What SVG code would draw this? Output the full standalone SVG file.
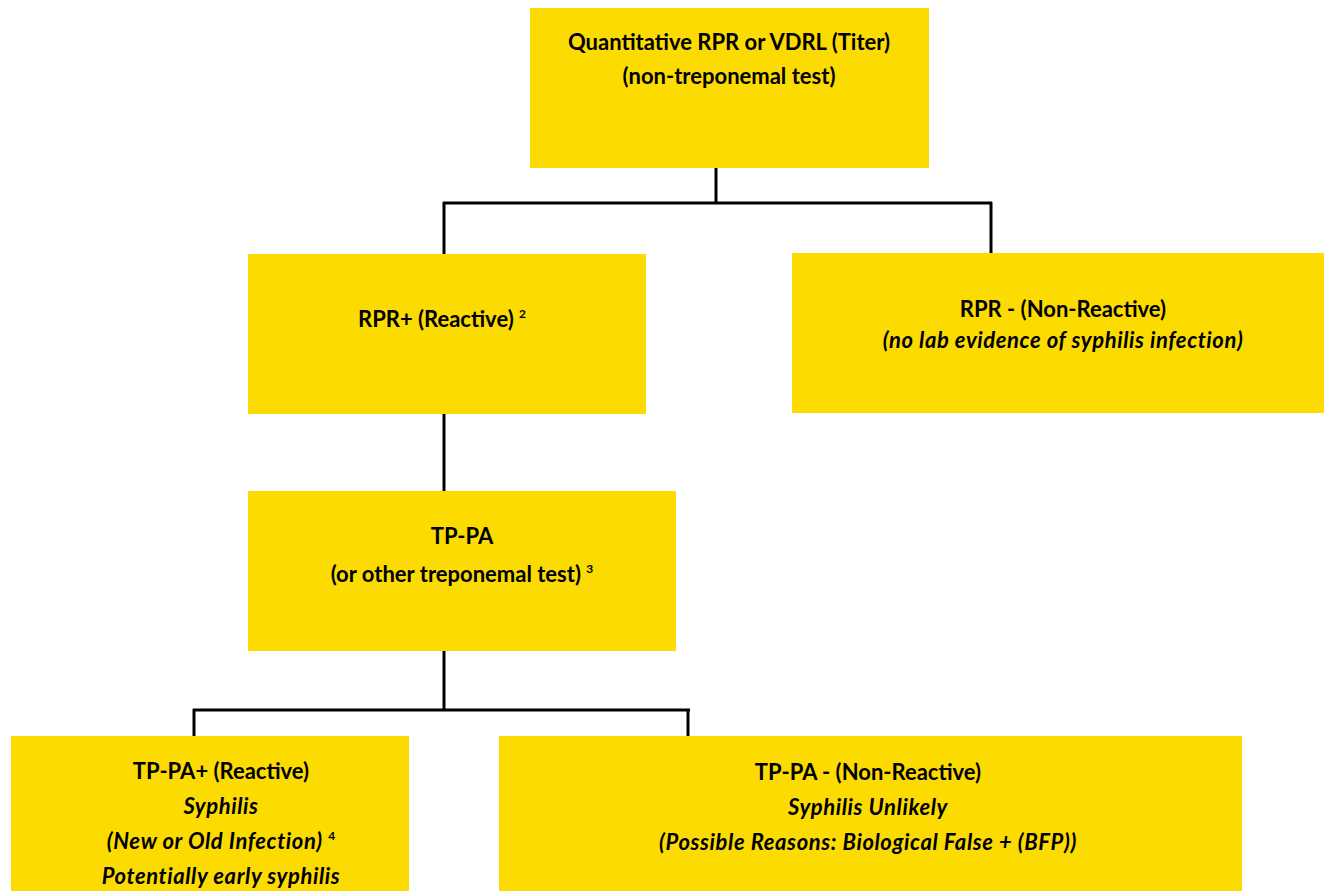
<svg xmlns="http://www.w3.org/2000/svg" width="1324" height="891" viewBox="0 0 1324 891">
<style>
.box{fill:#FCDC00;}
.t{font-family:Lato,"Liberation Sans",sans-serif;font-size:22px;font-weight:bold;fill:#000;text-anchor:middle;}
.i{font-style:italic;letter-spacing:0.6px;}
.sup{font-size:12px;letter-spacing:0;}
.c{fill:none;stroke:#000;stroke-width:3;}
</style>
<rect width="1324" height="891" fill="#fff"/>
<g id="connectors">
<path class="c" d="M716 168V203M443 203H992M444 202V254M991 202V253"/>
<path class="c" d="M444 414V491"/>
<path class="c" d="M444 651V710M193 710H690M194 709V736M688 709V736"/>
</g>
<g id="n1">
<rect class="box" x="530" y="8" width="399" height="160"/>
<text class="t" x="729" y="50">Quantitative RPR or VDRL (Titer)</text>
<text class="t" x="729" y="84">(non-treponemal test)</text>
</g>
<g id="n2">
<rect class="box" x="248" y="254" width="398" height="160"/>
<text class="t" x="442" y="327">RPR+ (Reactive) <tspan class="sup" dy="-9">2</tspan></text>
</g>
<g id="n3">
<rect class="box" x="792" y="253" width="532" height="160"/>
<text class="t" x="1063" y="317">RPR - (Non-Reactive)</text>
<text class="t i" x="1063" y="348">(no lab evidence of syphilis infection)</text>
</g>
<g id="n4">
<rect class="box" x="248" y="491" width="428" height="160"/>
<text class="t" x="462" y="544">TP-PA</text>
<text class="t" x="462" y="582">(or other treponemal test) <tspan class="sup" dy="-9">3</tspan></text>
</g>
<g id="n5">
<rect class="box" x="11" y="736" width="398" height="155"/>
<text class="t" x="221" y="779">TP-PA+ (Reactive)</text>
<text class="t i" x="221" y="814">Syphilis</text>
<text class="t i" x="221" y="849">(New or Old Infection) <tspan class="sup" dy="-9" font-style="normal">4</tspan></text>
<text class="t i" x="221" y="884">Potentially early syphilis</text>
</g>
<g id="n6">
<rect class="box" x="499" y="736" width="743" height="155"/>
<text class="t" x="868" y="780">TP-PA - (Non-Reactive)</text>
<text class="t i" x="868" y="815">Syphilis Unlikely</text>
<text class="t i" x="868" y="850">(Possible Reasons: Biological False + (BFP))</text>
</g>
</svg>
